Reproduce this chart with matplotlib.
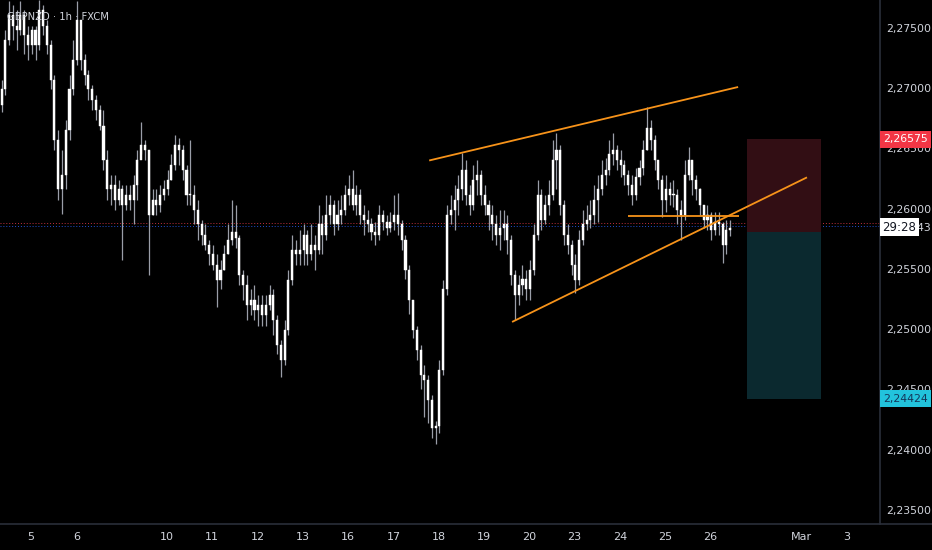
import matplotlib
matplotlib.use('Agg')
import matplotlib.pyplot as plt
from matplotlib.patches import Rectangle
import matplotlib.transforms as mtransforms
import numpy as np


TITLE = 'GBPNZD · 1h · FXCM'

# 2-hour candles, first one starts a little before the "5" session
FIRST_CANDLE_DAY = -0.65
CANDLES_PER_DAY = 12

FIRST_OPEN = 2.2686

closes = [
    2.2699, 2.2740, 2.2761, 2.2752, 2.2748, 2.2761, 2.2744, 2.2736, 2.2748, 2.2736,
    2.2765, 2.2752, 2.2736, 2.2707, 2.2657, 2.2616, 2.2628, 2.2665, 2.2699, 2.2723,
    2.2757, 2.2723, 2.2711, 2.2699, 2.2690, 2.2682, 2.2669, 2.2640, 2.2616, 2.2620,
    2.2607, 2.2616, 2.2603, 2.2611, 2.2607, 2.2620, 2.2640, 2.2653, 2.2649, 2.2595,
    2.2607, 2.2603, 2.2611, 2.2616, 2.2624, 2.2636, 2.2653, 2.2649, 2.2632, 2.2611,
    2.2611, 2.2599, 2.2587, 2.2578, 2.2570, 2.2562, 2.2553, 2.2541, 2.2549, 2.2562,
    2.2574, 2.2581, 2.2576, 2.2545, 2.2537, 2.2520, 2.2524, 2.2516, 2.2520, 2.2512,
    2.2520, 2.2528, 2.2508, 2.2487, 2.2474, 2.2499, 2.2541, 2.2566, 2.2562, 2.2566,
    2.2578, 2.2562, 2.2570, 2.2566, 2.2587, 2.2578, 2.2595, 2.2603, 2.2587, 2.2595,
    2.2599, 2.2611, 2.2616, 2.2603, 2.2611, 2.2595, 2.2591, 2.2587, 2.2581, 2.2578,
    2.2595, 2.2589, 2.2584, 2.2589, 2.2595, 2.2587, 2.2574, 2.2549, 2.2524, 2.2499,
    2.2483, 2.2462, 2.2458, 2.2441, 2.2418, 2.2420, 2.2466, 2.2533, 2.2595, 2.2599,
    2.2607, 2.2616, 2.2632, 2.2611, 2.2603, 2.2624, 2.2628, 2.2611, 2.2603, 2.2595,
    2.2587, 2.2578, 2.2584, 2.2587, 2.2574, 2.2545, 2.2528, 2.2537, 2.2542, 2.2533,
    2.2549, 2.2578, 2.2611, 2.2591, 2.2603, 2.2611, 2.2640, 2.2649, 2.2603, 2.2578,
    2.2570, 2.2553, 2.2541, 2.2574, 2.2587, 2.2591, 2.2595, 2.2607, 2.2616, 2.2628,
    2.2632, 2.2645, 2.2649, 2.2640, 2.2636, 2.2628, 2.2620, 2.2611, 2.2626, 2.2634,
    2.2649, 2.2667, 2.2657, 2.2640, 2.2624, 2.2607, 2.2616, 2.2611, 2.2611, 2.2599,
    2.2595, 2.2628, 2.2640, 2.2624, 2.2616, 2.2603, 2.2591, 2.2595, 2.2582, 2.2589,
    2.2587, 2.2570, 2.2582, 2.2584,
]

highs = [
    2.2707, 2.2748, 2.2772, 2.2769, 2.2765, 2.2772, 2.2765, 2.2752, 2.2752, 2.2752,
    2.2773, 2.2769, 2.2757, 2.2740, 2.2711, 2.2665, 2.2649, 2.2674, 2.2711, 2.2740,
    2.2772, 2.2740, 2.2728, 2.2715, 2.2703, 2.2694, 2.2686, 2.2682, 2.2649, 2.2628,
    2.2628, 2.2624, 2.2620, 2.2620, 2.2620, 2.2628, 2.2649, 2.2672, 2.2657, 2.2649,
    2.2616, 2.2616, 2.2620, 2.2624, 2.2632, 2.2645, 2.2661, 2.2659, 2.2653, 2.2636,
    2.2657, 2.2620, 2.2607, 2.2591, 2.2587, 2.2574, 2.2570, 2.2562, 2.2557, 2.2570,
    2.2587, 2.2607, 2.2603, 2.2578, 2.2549, 2.2545, 2.2533, 2.2537, 2.2528, 2.2528,
    2.2528, 2.2537, 2.2533, 2.2512, 2.2491, 2.2508, 2.2549, 2.2578, 2.2574, 2.2582,
    2.2587, 2.2582, 2.2587, 2.2578, 2.2603, 2.2595, 2.2611, 2.2611, 2.2607, 2.2607,
    2.2611, 2.2620, 2.2628, 2.2632, 2.2620, 2.2616, 2.2603, 2.2599, 2.2592, 2.2589,
    2.2603, 2.2599, 2.2595, 2.2597, 2.2611, 2.2613, 2.2591, 2.2578, 2.2553, 2.2524,
    2.2503, 2.2487, 2.2470, 2.2462, 2.2445, 2.2424, 2.2474, 2.2541, 2.2603, 2.2611,
    2.2620, 2.2628, 2.2646, 2.2640, 2.2620, 2.2636, 2.2640, 2.2632, 2.2620, 2.2607,
    2.2603, 2.2595, 2.2599, 2.2599, 2.2595, 2.2578, 2.2549, 2.2545, 2.2553, 2.2549,
    2.2557, 2.2587, 2.2624, 2.2616, 2.2611, 2.2624, 2.2657, 2.2663, 2.2653, 2.2607,
    2.2587, 2.2574, 2.2562, 2.2582, 2.2599, 2.2603, 2.2607, 2.2620, 2.2628, 2.2640,
    2.2642, 2.2657, 2.2663, 2.2653, 2.2649, 2.2640, 2.2632, 2.2628, 2.2634, 2.2640,
    2.2657, 2.2684, 2.2674, 2.2661, 2.2640, 2.2628, 2.2628, 2.2622, 2.2624, 2.2616,
    2.2607, 2.2640, 2.2651, 2.2640, 2.2628, 2.2617, 2.2603, 2.2603, 2.2597, 2.2597,
    2.2597, 2.2589, 2.2591, 2.2591,
]

lows = [
    2.2680, 2.2694, 2.2736, 2.2740, 2.2732, 2.2744, 2.2728, 2.2723, 2.2728, 2.2723,
    2.2732, 2.2744, 2.2728, 2.2699, 2.2649, 2.2607, 2.2596, 2.2616, 2.2657, 2.2694,
    2.2719, 2.2715, 2.2703, 2.2690, 2.2682, 2.2674, 2.2665, 2.2632, 2.2607, 2.2603,
    2.2599, 2.2603, 2.2557, 2.2599, 2.2599, 2.2587, 2.2607, 2.2645, 2.2640, 2.2545,
    2.2595, 2.2595, 2.2597, 2.2607, 2.2611, 2.2624, 2.2632, 2.2636, 2.2624, 2.2603,
    2.2603, 2.2587, 2.2574, 2.2570, 2.2566, 2.2553, 2.2549, 2.2518, 2.2533, 2.2549,
    2.2562, 2.2570, 2.2567, 2.2537, 2.2524, 2.2508, 2.2512, 2.2508, 2.2503, 2.2503,
    2.2503, 2.2516, 2.2495, 2.2479, 2.2460, 2.2470, 2.2495, 2.2537, 2.2553, 2.2553,
    2.2553, 2.2553, 2.2557, 2.2549, 2.2562, 2.2562, 2.2574, 2.2587, 2.2578, 2.2582,
    2.2587, 2.2595, 2.2603, 2.2599, 2.2595, 2.2587, 2.2578, 2.2581, 2.2574, 2.2570,
    2.2574, 2.2582, 2.2578, 2.2581, 2.2582, 2.2578, 2.2566, 2.2542, 2.2513, 2.2493,
    2.2474, 2.2450, 2.2427, 2.2422, 2.2410, 2.2405, 2.2414, 2.2462, 2.2528, 2.2587,
    2.2582, 2.2595, 2.2607, 2.2603, 2.2595, 2.2599, 2.2611, 2.2603, 2.2595, 2.2582,
    2.2574, 2.2570, 2.2566, 2.2574, 2.2562, 2.2537, 2.2508, 2.2520, 2.2528, 2.2524,
    2.2524, 2.2545, 2.2574, 2.2582, 2.2587, 2.2595, 2.2607, 2.2616, 2.2595, 2.2570,
    2.2562, 2.2545, 2.2530, 2.2537, 2.2570, 2.2582, 2.2584, 2.2587, 2.2589, 2.2611,
    2.2620, 2.2628, 2.2636, 2.2632, 2.2626, 2.2620, 2.2611, 2.2603, 2.2607, 2.2620,
    2.2628, 2.2649, 2.2649, 2.2632, 2.2616, 2.2593, 2.2597, 2.2603, 2.2601, 2.2587,
    2.2574, 2.2591, 2.2624, 2.2611, 2.2607, 2.2595, 2.2584, 2.2582, 2.2574, 2.2578,
    2.2578, 2.2555, 2.2562, 2.2577,
]

# x axis: one unit per trading session
day_ticks = [0, 1, 3, 4, 5, 6, 7, 8, 9, 10, 11, 12, 13, 14, 15, 17, 18]
day_labels = ['5', '6', '10', '11', '12', '13', '16', '17', '18', '19', '20',
              '23', '24', '25', '26', 'Mar', '3']

price_ticks = [2.235, 2.240, 2.245, 2.250, 2.255, 2.260, 2.265, 2.270, 2.275]

# drawings (x in sessions, y in price)
upper_line = ([8.79, 15.61], [2.2640, 2.2701])
lower_line = ([10.62, 17.13], [2.2506, 2.2626])
flat_line = ([13.18, 15.63], [2.2594, 2.2594])

position_x = [15.80, 17.43]
entry_price = 2.2581
stop_price = 2.26575
target_price = 2.24424

last_price = 2.25843
bid_line = 2.2588
ask_line = 2.2586

BG = '#000000'
TEXT = '#d1d4dc'
GRID = '#2a2e39'


def fmt_price(p):
    return '{:.5f}'.format(p).replace('.', ',')


def main():
    fig = plt.figure(figsize=(9.32, 5.5), dpi=100, facecolor=BG)
    ax = fig.add_axes([0, 26 / 550, 880 / 932, 524 / 550], facecolor=BG)

    ax.set_xlim(-0.6843, 18.742)
    ax.set_ylim(2.23383, 2.27732)

    opens = [FIRST_OPEN] + closes[:-1]
    xs = FIRST_CANDLE_DAY + np.arange(len(closes)) / CANDLES_PER_DAY

    # wicks
    ax.vlines(xs, lows, highs, color='#9a9ea8', linewidth=0.9, zorder=2)
    # bodies
    bottoms = np.minimum(opens, closes)
    heights = np.maximum(np.abs(np.array(closes) - np.array(opens)), 0.00009)
    ax.bar(xs, heights, width=0.046, bottom=bottoms, color='#ffffff',
           edgecolor='#ffffff', linewidth=0.3, zorder=3)

    # price lines
    ax.axhline(bid_line, color='#c2303d', linestyle=(0, (1, 2)), linewidth=0.7, zorder=1)
    ax.axhline(ask_line, color='#2450d0', linestyle=(0, (1, 2)), linewidth=0.7, zorder=1)

    # trend lines
    for xx, yy in (upper_line, lower_line, flat_line):
        ax.plot(xx, yy, color='#f7931a', linewidth=1.3, zorder=4,
                solid_capstyle='butt')

    # short position tool
    w = position_x[1] - position_x[0]
    ax.add_patch(Rectangle((position_x[0], entry_price), w, stop_price - entry_price,
                           facecolor='#320e14', edgecolor='none', zorder=1))
    ax.add_patch(Rectangle((position_x[0], target_price), w, entry_price - target_price,
                           facecolor='#0b292f', edgecolor='none', zorder=1))

    # axes look
    for s in ax.spines.values():
        s.set_visible(False)
    ax.axvline(18.742, color=GRID, linewidth=1.2, clip_on=False)
    fig.add_artist(plt.Line2D([0, 1], [26 / 550, 26 / 550], color=GRID, linewidth=1.2))

    ax.yaxis.tick_right()
    ax.set_yticks(price_ticks)
    ax.set_yticklabels([fmt_price(p) for p in price_ticks])
    ax.set_xticks(day_ticks)
    ax.set_xticklabels(day_labels)
    ax.tick_params(axis='y', length=0, pad=4.5, labelsize=7.8, labelcolor=TEXT)
    ax.tick_params(axis='x', length=0, pad=6, labelsize=8, labelcolor=TEXT)

    # axis price labels
    trans = mtransforms.blended_transform_factory(ax.transAxes, ax.transData)
    ax.text(1.0075, last_price - 0.00006, fmt_price(last_price), transform=trans,
            fontsize=7.8, color=TEXT, va='center', ha='left', clip_on=False, zorder=5)
    ax.text(1.0025, last_price + 0.00004, '29:28', transform=trans, fontsize=8.5,
            color='#131722', va='center', ha='left', clip_on=False, zorder=6,
            bbox=dict(boxstyle='square,pad=0.22', facecolor='#ffffff', edgecolor='none'))
    ax.text(1.0035, stop_price, fmt_price(stop_price), transform=trans,
            fontsize=7.8, color='#ffffff', va='center', ha='left', clip_on=False, zorder=6,
            bbox=dict(boxstyle='square,pad=0.3', facecolor='#f23645', edgecolor='none'))
    ax.text(1.0035, target_price, fmt_price(target_price), transform=trans,
            fontsize=7.8, color='#14365a', va='center', ha='left', clip_on=False, zorder=6,
            bbox=dict(boxstyle='square,pad=0.3', facecolor='#22c3dc', edgecolor='none'))

    # title
    ax.text(0.008, 0.968, TITLE, transform=ax.transAxes, fontsize=7.2, color=TEXT,
            va='center', ha='left', zorder=7)

    fig.savefig('out.png', dpi=100, facecolor=BG)


if __name__ == '__main__':
    main()
